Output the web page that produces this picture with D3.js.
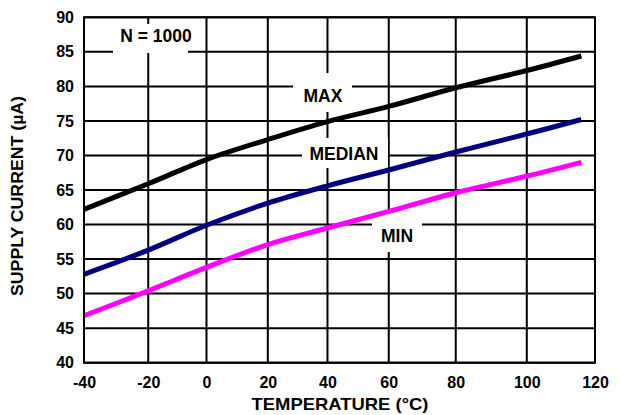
<!DOCTYPE html>
<html>
<head>
<meta charset="utf-8">
<script src="https://cdn.jsdelivr.net/npm/d3@7"></script>
<style>
  html, body { margin: 0; padding: 0; background: #fff; }
  svg { display: block; font-family: "Liberation Sans", Arial, sans-serif; font-weight: bold; }
</style>
</head>
<body>
<svg id="chart" width="621" height="415"></svg>
<script>
// ---- data ----
const temperatures = [-40, -20, 0, 20, 40, 60, 80, 100, 116];
const maxCurrent    = [62.2, 65.9, 69.4, 72.3, 74.9, 77.1, 79.8, 82.3, 84.4];
const medianCurrent = [52.8, 56.3, 59.9, 63.1, 65.6, 67.9, 70.5, 73.1, 75.2];
const minCurrent    = [46.8, 50.4, 53.8, 57.1, 59.5, 61.9, 64.6, 67.0, 69.0];
const xTicks = [-40, -20, 0, 20, 40, 60, 80, 100, 120];
const yTicks = [40, 45, 50, 55, 60, 65, 70, 75, 80, 85, 90];
const seriesNames = ["MAX", "MEDIAN", "MIN"];
const noteText = "N = 1000";
const xTitle = "TEMPERATURE (°C)";
const yTitle = "SUPPLY CURRENT (µA)";

(function () {
const svg = d3.select("#chart");
const pL = 84, pR = 595, pT = 17.3, pB = 362.7;
const W = pR - pL;
const FONT = '"Liberation Sans", Arial, sans-serif';

// piecewise scale to follow the (slightly uneven) grid of the original
const x = d3.scaleLinear()
  .domain(xTicks)
  .range([0, 0.1257, 0.2397, 0.3597, 0.4765, 0.5964, 0.7275, 0.8665, 1.0].map(f => pL + f * W));
const y = d3.scaleLinear().domain([40, 90]).range([pB, pT]);

// grid
const grid = svg.append("g");
grid.selectAll("line.v").data(xTicks).join("line").attr("class", "v")
  .attr("x1", d => x(d)).attr("x2", d => x(d))
  .attr("y1", pT).attr("y2", pB)
  .attr("stroke", "#000").attr("stroke-width", 2);
grid.selectAll("line.h").data(yTicks).join("line").attr("class", "h")
  .attr("x1", pL).attr("x2", pR)
  .attr("y1", d => y(d)).attr("y2", d => y(d))
  .attr("stroke", "#000").attr("stroke-width", 2);

// axes tick labels via d3 axes (no lines)
const xAxis = svg.append("g").attr("transform", `translate(0,${pB})`)
  .call(d3.axisBottom(x).tickValues(xTicks).tickSize(0).tickPadding(14).tickFormat(d => String(d)));
const yAxis = svg.append("g").attr("transform", `translate(${pL},0)`)
  .call(d3.axisLeft(y).tickValues(yTicks).tickSize(0).tickPadding(10).tickFormat(d => String(d)));
[xAxis, yAxis].forEach(a => {
  a.select(".domain").remove();
  a.selectAll("text").attr("font-size", 16).attr("font-weight", "bold")
    .attr("font-family", FONT).attr("fill", "#000");
});

// label boxes
const labels = [
  { text: noteText,       cx: 156, base: 41.7,  bx: 113, by: 24,  bw: 75, bh: 29 },
  { text: seriesNames[0], cx: 323, base: 101.7, bx: 293, by: 73,  bw: 59, bh: 39 },
  { text: seriesNames[1], cx: 344, base: 160,   bx: 302, by: 138, bw: 86, bh: 30 },
  { text: seriesNames[2], cx: 397, base: 241.7, bx: 372, by: 214, bw: 50, bh: 38 }
];
const lg = svg.append("g");
lg.selectAll("rect").data(labels).join("rect")
  .attr("x", d => d.bx).attr("y", d => d.by).attr("width", d => d.bw).attr("height", d => d.bh)
  .attr("fill", "#fff");
lg.selectAll("text").data(labels).join("text")
  .attr("x", d => d.cx).attr("y", d => d.base)
  .attr("text-anchor", "middle")
  .attr("font-size", 17.5).attr("font-weight", "bold").text(d => d.text);

// curves
const series = [
  { values: maxCurrent, color: "#000000" },
  { values: medianCurrent, color: "#000080" },
  { values: minCurrent, color: "#ff00ff" }
];
const line = d3.line().x((d, i) => x(temperatures[i])).y(d => y(d)).curve(d3.curveCatmullRom.alpha(0.5));
svg.append("g").selectAll("path").data(series).join("path")
  .attr("d", d => line(d.values))
  .attr("fill", "none").attr("stroke", d => d.color).attr("stroke-width", 5);

// frame
svg.append("rect").attr("x", pL).attr("y", pT).attr("width", W).attr("height", pB - pT)
  .attr("fill", "none").attr("stroke", "#000").attr("stroke-width", 2);

// axis titles
svg.append("text").attr("x", 340).attr("y", 410).attr("text-anchor", "middle")
  .attr("font-size", 17).attr("font-weight", "bold")
  .attr("textLength", 177).attr("lengthAdjust", "spacingAndGlyphs").text(xTitle);
svg.append("text").attr("transform", "translate(23,196) rotate(-90)").attr("text-anchor", "middle")
  .attr("font-size", 16).attr("font-weight", "bold")
  .attr("textLength", 200).attr("lengthAdjust", "spacingAndGlyphs").text(yTitle);
})();
</script>
</body>
</html>
